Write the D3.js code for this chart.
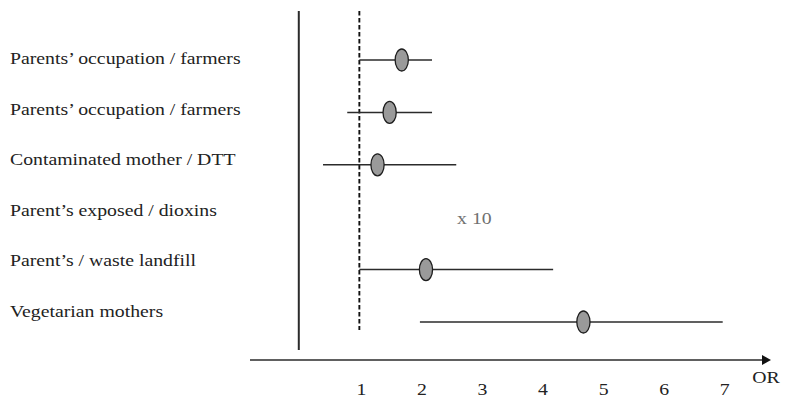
<!DOCTYPE html>
<html>
<head>
<meta charset="utf-8">
<script src="https://cdn.jsdelivr.net/npm/d3@7/dist/d3.min.js"></script>
<style>
  html, body { margin: 0; padding: 0; background: #fff; }
  svg { display: block; }
</style>
</head>
<body>
<svg id="chart" width="785" height="398"></svg>
<script>
// ---- data ----
const categories = [
  "Parents\u2019 occupation / farmers",
  "Parents\u2019 occupation / farmers",
  "Contaminated mother / DTT",
  "Parent\u2019s exposed / dioxins",
  "Parent\u2019s / waste landfill",
  "Vegetarian mothers"
];
const orValues = [1.7, 1.5, 1.3, null, 2.1, 4.7];
const ciLow    = [1.0, 0.8, 0.4, null, 1.0, 2.0];
const ciHigh   = [2.2, 2.2, 2.6, null, 4.2, 7.0];
const tickValues = [1, 2, 3, 4, 5, 6, 7];
const noteRow = 3;
const noteText = "x 10";
const noteAt = 2.9;
const axisTitle = "OR";

// ---- layout ----
const svg = d3.select("#chart");
const serif = "'Liberation Serif', 'Times New Roman', Times, 'Nimbus Roman', 'DejaVu Serif', serif";
const stretch = 1.13;
const fontSize = 17.5;

const x = d3.scaleLinear().domain([0, 7]).range([298.8, 722.7]);
const y = d3.scalePoint().domain(d3.range(categories.length)).range([60, 322]);
// labels sit on a slightly tighter grid than the marks
const yLabel = d3.scalePoint().domain(d3.range(categories.length)).range([64, 317]);

const axisY = 360;
const lineColor = "#2b2b2b";

// vertical solid line at OR = 0
svg.append("line")
  .attr("x1", x(0)).attr("x2", x(0))
  .attr("y1", 11).attr("y2", 350)
  .attr("stroke", lineColor).attr("stroke-width", 2);

// dashed reference line at OR = 1
svg.append("line")
  .attr("x1", x(1)).attr("x2", x(1))
  .attr("y1", 11).attr("y2", 330)
  .attr("stroke", "#111").attr("stroke-width", 1.9)
  .attr("stroke-dasharray", "4.5,2.5");

// horizontal axis with arrow
svg.append("line")
  .attr("x1", 250).attr("x2", 763)
  .attr("y1", axisY).attr("y2", axisY)
  .attr("stroke", lineColor).attr("stroke-width", 1.6);
svg.append("path")
  .attr("d", `M762,${axisY - 5}L771,${axisY}L762,${axisY + 5}Z`)
  .attr("fill", "#111");

// tick labels
svg.append("g").selectAll("text")
  .data(tickValues)
  .join("text")
  .attr("transform", d => `translate(${x(d) + 2},395) scale(${stretch},1)`)
  .attr("text-anchor", "middle")
  .attr("font-family", serif)
  .attr("font-size", fontSize)
  .attr("fill", "#222")
  .text(d => d);

// axis title
svg.append("text")
  .attr("transform", `translate(766,383) scale(${stretch},1)`)
  .attr("text-anchor", "middle")
  .attr("font-family", serif)
  .attr("font-size", fontSize)
  .attr("fill", "#222")
  .text(axisTitle);

// category labels
svg.append("g").selectAll("text")
  .data(categories)
  .join("text")
  .attr("transform", (d, i) => `translate(10,${yLabel(i)}) scale(${stretch},1)`)
  .attr("font-family", serif)
  .attr("font-size", fontSize)
  .attr("fill", "#222")
  .text(d => d);

const rows = categories.map((c, i) => ({ i, or: orValues[i], lo: ciLow[i], hi: ciHigh[i] }))
  .filter(d => d.or != null);

// CI lines
svg.append("g").selectAll("line")
  .data(rows)
  .join("line")
  .attr("x1", d => x(d.lo)).attr("x2", d => x(d.hi))
  .attr("y1", d => y(d.i)).attr("y2", d => y(d.i))
  .attr("stroke", lineColor).attr("stroke-width", 1.5);

// point estimates
svg.append("g").selectAll("ellipse")
  .data(rows)
  .join("ellipse")
  .attr("cx", d => x(d.or)).attr("cy", d => y(d.i))
  .attr("rx", 6.6).attr("ry", 11)
  .attr("fill", "#9a9a9a")
  .attr("stroke", "#1e1e1e").attr("stroke-width", 1.3);

// note
svg.append("text")
  .attr("transform", `translate(${x(noteAt)},${y(noteRow) + 7}) scale(${stretch},1)`)
  .attr("text-anchor", "middle")
  .attr("font-family", serif)
  .attr("font-size", fontSize)
  .attr("fill", "#707070")
  .text(noteText);
</script>
</body>
</html>
